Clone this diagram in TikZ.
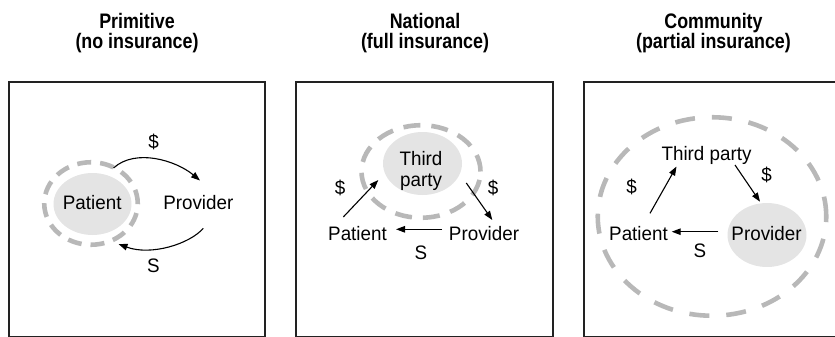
\documentclass[tikz,border=0pt]{standalone}
\usepackage{fontspec}
\setmainfont[FakeStretch=0.965]{Liberation Sans}
\newfontfamily\titlefont[FakeStretch=0.85]{Liberation Sans}
\usetikzlibrary{arrows.meta,shapes.geometric}
\definecolor{ringgray}{HTML}{B8B8B8}
\definecolor{fillgray}{HTML}{E4E4E4}
\definecolor{boxline}{HTML}{222222}
\begin{document}
\begin{tikzpicture}[x=1pt,y=-1pt,
 panel/.style={draw=boxline,line width=2.4pt,minimum height=255pt,inner sep=0},
 ttl/.style={font=\titlefont\bfseries\fontsize{21}{20}\selectfont,align=center,inner sep=0,anchor=north},
 lbl/.style={font=\fontsize{19.5}{20.7}\selectfont,inner sep=0,anchor=base},
 sym/.style={font=\fontsize{19.5}{20.7}\selectfont,inner sep=0},
 blob/.style={ellipse,fill=fillgray,inner sep=0},
 ring/.style={ellipse,draw=ringgray,line width=4.6pt,inner sep=0,outer sep=0},
 arr/.style={line width=1.1pt,-{Triangle[length=9pt,width=6.5pt]}}]
\useasboundingbox (0,0) rectangle (835,337);

% Panel 1
\node[panel,minimum width=256.3pt] (box1) at (136.85,209.5) {};
\node[ttl] (t1) at (137,13.5) {Primitive\\(no insurance)};
\node[ring,minimum width=93.5pt,minimum height=82.5pt,dash pattern=on 14pt off 9pt] (ring1) at (91,203.5) {};
\node[blob,minimum width=78pt,minimum height=62pt] (pbg1) at (92.5,204) {};
\node[lbl] (pat1) at (92.2,209) {Patient};
\node[lbl] (prov1) at (198.3,209) {Provider};
\node[sym] (d1) at (153.5,141.7) {\$};
\node[sym] (s1) at (153.5,266) {S};
\draw[arr] ([shift={(22.5,-35.5)}]ring1.center) .. controls +(22,-20) and +(-24,-20) .. ([shift={(1.7,-28.5)}]prov1.base);
\draw[arr] ([shift={(5,19.3)}]prov1.base) .. controls +(-14,16) and +(32,12) .. ([shift={(27.5,40.5)}]ring1.center);

% Panel 2
\node[panel,minimum width=256.7pt] (box2) at (424.35,209.5) {};
\node[ttl] (t2) at (425,13.5) {National\\(full insurance)};
\node[ring,minimum width=119pt,minimum height=92.5pt,dash pattern=on 17pt off 11pt] (ring2) at (421,171.5) {};
\node[blob,minimum width=79pt,minimum height=63pt] (tpbg2) at (422.5,163.5) {};
\node[sym,align=center] (tp2) at (421,171.3) {Third\\party};
\node[lbl] (pat2) at (357.5,240.7) {Patient};
\node[lbl] (prov2) at (484,240.7) {Provider};
\node[sym] (d2a) at (340,188.3) {\$};
\node[sym] (d2b) at (493,188.3) {\$};
\node[sym] (s2) at (421,252.5) {S};
\draw[arr] ([shift={(-14.2,-23.7)}]pat2.base) -- ([shift={(-44.2,16.5)}]tpbg2.center);
\draw[arr] ([shift={(43.8,19.5)}]tpbg2.center) -- ([shift={(8.3,-20.7)}]prov2.base);
\draw[arr] ([shift={(-42,-11.4)}]prov2.base) -- ([shift={(38.5,-11.4)}]pat2.base);

% Panel 3
\node[panel,minimum width=256pt] (box3) at (712,209.5) {};
\node[ttl] (t3) at (713.5,13.5) {Community\\(partial insurance)};
\node[ring,minimum width=228.5pt,minimum height=198.5pt,dash pattern=on 20pt off 17pt] (ring3) at (712,216.5) {};
\node[blob,minimum width=79pt,minimum height=64pt] (provbg3) at (767,235) {};
\node[lbl] (prov3) at (766.5,240) {Provider};
\node[lbl] (tp3) at (706.5,160) {Third party};
\node[lbl] (pat3) at (638.5,240) {Patient};
\node[sym] (d3a) at (631.7,186.7) {\$};
\node[sym] (d3b) at (766.7,175) {\$};
\node[sym] (s3) at (700,251) {S};
\draw[arr] ([shift={(11.5,-26.7)}]pat3.base) -- ([shift={(-30,6.5)}]tp3.base);
\draw[arr] ([shift={(28.5,5)}]tp3.base) -- ([shift={(-7,-33.3)}]provbg3.center);
\draw[arr] ([shift={(-48.7,-3.3)}]provbg3.center) -- ([shift={(33.2,-8.3)}]pat3.base);
\end{tikzpicture}
\end{document}
